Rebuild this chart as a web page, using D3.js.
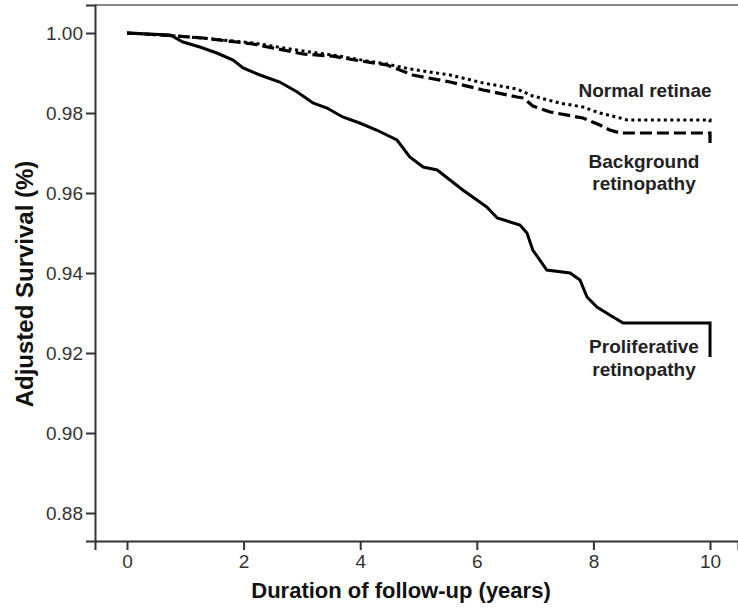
<!DOCTYPE html>
<html><head><meta charset="utf-8">
<script src="https://cdn.jsdelivr.net/npm/d3@7"></script>
<style>
body{margin:0;background:#fff;}
svg{display:block;font-family:"Liberation Sans",Arial,sans-serif;}
</style></head>
<body><svg id="c" width="738" height="614"></svg>
<script>
// Data (years, adjusted survival)
const normalYears = [0,0.86,1.30,2.16,3.02,3.53,4.12,4.46,4.85,5.54,6.11,6.69,6.96,7.42,7.82,8.11,8.46,8.58,10,10];
const normalSurv  = [1.000,0.99925,0.99875,0.9975,0.9955,0.9945,0.993,0.99225,0.991,0.9895,0.9875,0.986,0.98425,0.9825,0.9815,0.980,0.97875,0.97825,0.97825,0.977];
const backgroundYears = [0,0.86,1.30,2.16,3.02,3.53,4.12,4.46,4.90,5.54,6.11,6.69,6.80,6.96,7.26,7.82,8.11,8.28,8.46,10,10];
const backgroundSurv  = [1.000,0.99925,0.99875,0.99725,0.99475,0.9942,0.99275,0.992,0.9895,0.98775,0.98575,0.984,0.98375,0.98175,0.98025,0.97875,0.977,0.97575,0.975,0.975,0.972];
const prolifYears = [0,0.74,0.96,1.25,1.54,1.82,1.99,2.28,2.62,2.92,3.19,3.43,3.70,3.99,4.28,4.63,4.85,5.08,5.32,5.54,5.76,6.17,6.35,6.74,6.86,6.96,7.20,7.60,7.77,7.89,8.06,8.28,8.51,10,10];
const prolifSurv  = [1.000,0.9995,0.99775,0.9965,0.995,0.99325,0.99125,0.9895,0.98775,0.98525,0.9825,0.98125,0.979,0.9775,0.97575,0.97325,0.969,0.9665,0.96575,0.96325,0.96075,0.9565,0.95375,0.952,0.950,0.94575,0.94075,0.940,0.93825,0.934,0.9315,0.9295,0.9275,0.9275,0.919];
const yTicks = [0.88,0.90,0.92,0.94,0.96,0.98,1.00];
const xTicks = [0,2,4,6,8,10];

const svg = d3.select("#c");
const x = d3.scaleLinear().domain([-0.549,10.48]).range([95,738]);
const y = d3.scaleLinear().domain([0.873,1.007]).range([541,5]);

// top frame line
svg.append("line").attr("x1",x(-0.549)).attr("x2",738).attr("y1",y(1.007)).attr("y2",y(1.007))
  .attr("stroke","#888").attr("stroke-width",2);

const ya = svg.append("g").attr("transform","translate(95,0)")
  .call(d3.axisLeft(y).tickValues(yTicks).tickFormat(d3.format(".2f")).tickSizeOuter(0).tickSize(9).tickPadding(3));
const xa = svg.append("g").attr("transform","translate(0,541)")
  .call(d3.axisBottom(x).tickValues(xTicks).tickFormat(d3.format("d")).tickSizeOuter(0).tickSize(9).tickPadding(5));
[ya,xa].forEach(g=>{
  g.select(".domain").attr("stroke","#333").attr("stroke-width",2);
  g.selectAll(".tick line").attr("stroke","#333").attr("stroke-width",2);
  g.selectAll(".tick text").attr("fill","#333").style("font-size","19px").style("font-family","'Liberation Sans',Arial,sans-serif");
});

const line = d3.line().x(d=>x(d[0])).y(d=>y(d[1])).curve(d3.curveLinear);
function draw(years, surv, dash, w){
  const pts = years.map((t,i)=>[t,surv[i]]);
  svg.append("path").attr("d", line(pts))
    .attr("fill","none").attr("stroke","#000").attr("stroke-width",w)
    .attr("stroke-linejoin","miter")
    .attr("stroke-dasharray", dash || null);
}
draw(prolifYears, prolifSurv, null, 3);
draw(backgroundYears, backgroundSurv, "12,5", 3.2);
draw(normalYears, normalSurv, "3,3.5", 3);

// labels
const lab = svg.append("g").attr("font-weight","bold").attr("font-size","19px").attr("fill","#222").attr("text-anchor","middle");
lab.append("text").attr("x",645).attr("y",97).text("Normal retinae");
lab.append("text").attr("x",644).attr("y",168).text("Background");
lab.append("text").attr("x",644).attr("y",190).text("retinopathy");
lab.append("text").attr("x",644).attr("y",353).text("Proliferative");
lab.append("text").attr("x",644).attr("y",376).text("retinopathy");

svg.append("text").attr("x",401).attr("y",598).attr("text-anchor","middle")
  .attr("font-weight","bold").attr("font-size","22px").attr("fill","#111").text("Duration of follow-up (years)");
svg.append("text").attr("transform","translate(33,284) rotate(-90)").attr("text-anchor","middle")
  .attr("font-weight","bold").attr("font-size","24px").attr("fill","#111").text("Adjusted Survival (%)");
</script></body></html>
